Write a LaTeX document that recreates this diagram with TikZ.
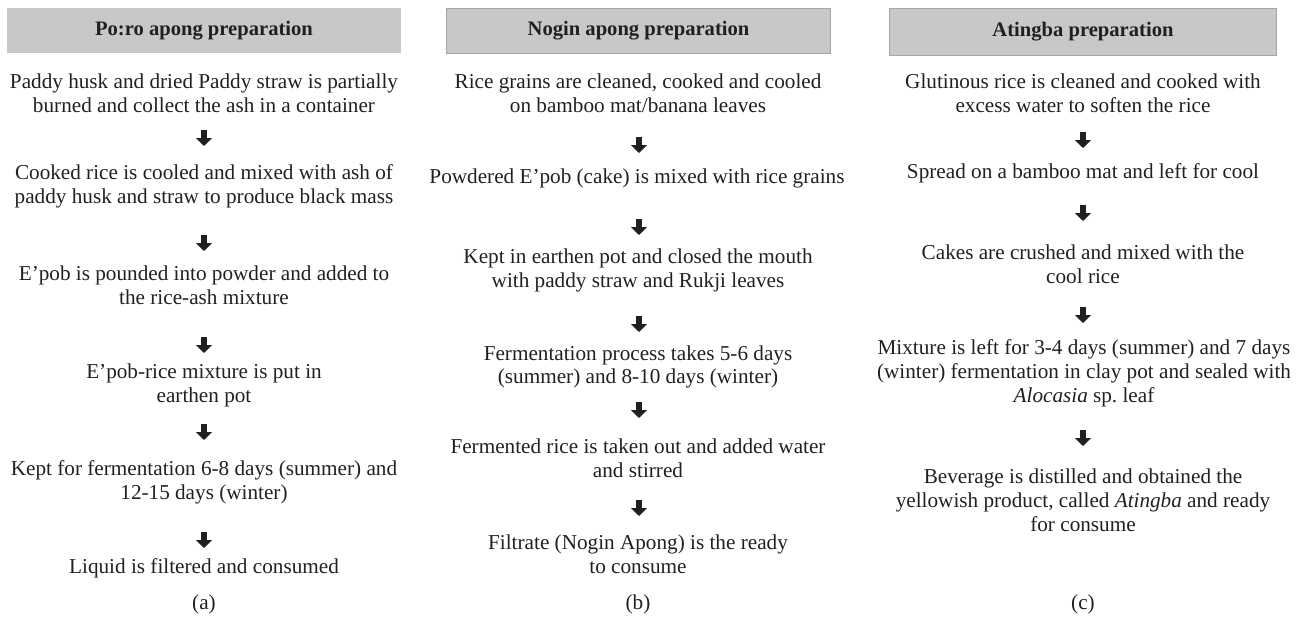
\documentclass[tikz,border=0pt]{standalone}
\usepackage{fontspec}
\setmainfont{Liberation Serif}
\usetikzlibrary{arrows.meta}
\definecolor{ink}{HTML}{231F20}
\definecolor{hdrfill}{HTML}{C8C8C8}
\definecolor{hdrline}{HTML}{A6A6A6}
\tikzset{
  steptext/.style={align=center, inner sep=0pt, text=ink, font=\fontsize{21.2}{23.8}\selectfont},
  hdr/.style={fill=hdrfill, inner sep=0pt, text=ink, font=\bfseries\fontsize{20.6}{23}\selectfont},
  hdrb/.style={hdr, draw=hdrline, line width=1.5pt},
  blk/.style={draw=ink, line width=6pt, -{Triangle[width=16pt,length=8pt]}},
  caption/.style={inner sep=0pt, text=ink, font=\fontsize{21.2}{23.8}\selectfont}
}
\begin{document}
\begin{tikzpicture}[x=1pt,y=-1pt]
\useasboundingbox (0,0) rectangle (1304,618);
% ---------- (a) ----------
\node[hdr, minimum width=394pt, minimum height=45pt] (ha) at (204,30.5) {Po:ro apong preparation};
\node[steptext] (a1) at (204,93.5) {Paddy husk and dried Paddy straw is partially\\burned and collect the ash in a container};
\node[steptext] (a2) at (204,186.5) {Cooked rice is cooled and mixed with ash of\\paddy husk and straw to produce black mass};
\node[steptext] (a3) at (204,285) {E'pob is pounded into powder and added to\\the rice-ash mixture};
\node[steptext] (a4) at (204,385) {E'pob-rice mixture is put in\\earthen pot};
\node[steptext] (a5) at (204,482.5) {Kept for fermentation 6-8 days (summer) and\\12-15 days (winter)};
\node[steptext] (a6) at (204,568) {Liquid is filtered and consumed};
\node[caption] (capa) at (204,604) {(a)};
\coordinate (aa1s) at (204,130); \coordinate (aa1e) at (204,146);
\coordinate (aa2s) at (204,235); \coordinate (aa2e) at (204,251);
\coordinate (aa3s) at (204,337); \coordinate (aa3e) at (204,353);
\coordinate (aa4s) at (204,424); \coordinate (aa4e) at (204,440);
\coordinate (aa5s) at (204,532); \coordinate (aa5e) at (204,548);
\foreach \i in {1,...,5} {\draw[blk] (aa\i s) -- (aa\i e);}
% ---------- (b) ----------
\node[hdrb, minimum width=384pt, minimum height=45pt] (hb) at (638.5,31) {Nogin apong preparation};
\node[steptext] (b1) at (638,93) {Rice grains are cleaned, cooked and cooled\\on bamboo mat/banana leaves};
\node[steptext] (b2) at (637,178) {Powdered E'pob (cake) is mixed with rice grains};
\node[steptext] (b3) at (638,270.5) {Kept in earthen pot and closed the mouth\\with paddy straw and Rukji leaves};
\node[steptext] (b4) at (638,367) {Fermentation process takes 5-6 days\\(summer) and 8-10 days (winter)};
\node[steptext] (b5) at (638,458.5) {Fermented rice is taken out and added water\\and stirred};
\node[steptext] (b6) at (638,554) {Filtrate (Nogin Apong) is the ready\\to consume};
\node[caption] (capb) at (638,604) {(b)};
\coordinate (ba1s) at (639,137); \coordinate (ba1e) at (639,153);
\coordinate (ba2s) at (639,219); \coordinate (ba2e) at (639,235);
\coordinate (ba3s) at (639,316); \coordinate (ba3e) at (639,332);
\coordinate (ba4s) at (639,402); \coordinate (ba4e) at (639,418);
\coordinate (ba5s) at (639,500); \coordinate (ba5e) at (639,516);
\foreach \i in {1,...,5} {\draw[blk] (ba\i s) -- (ba\i e);}
% ---------- (c) ----------
\node[hdrb, minimum width=387pt, minimum height=47pt] (hc) at (1083,32) {Atingba preparation};
\node[steptext] (c1) at (1083,93) {Glutinous rice is cleaned and cooked with\\excess water to soften the rice};
\node[steptext] (c2) at (1083,173) {Spread on a bamboo mat and left for cool};
\node[steptext] (c3) at (1083,264) {Cakes are crushed and mixed with the\\cool rice};
\node[steptext] (c4) at (1084,373) {Mixture is left for 3-4 days (summer) and 7 days\\(winter) fermentation in clay pot and sealed with\\\textit{Alocasia} sp.\ leaf};
\node[steptext] (c5) at (1083,500) {Beverage is distilled and obtained the\\yellowish product, called \textit{Atingba} and ready\\for consume};
\node[caption] (capc) at (1083,604) {(c)};
\coordinate (ca1s) at (1083,132); \coordinate (ca1e) at (1083,148);
\coordinate (ca2s) at (1083,205); \coordinate (ca2e) at (1083,221);
\coordinate (ca3s) at (1083,307); \coordinate (ca3e) at (1083,323);
\coordinate (ca4s) at (1083,430); \coordinate (ca4e) at (1083,446);
\foreach \i in {1,...,4} {\draw[blk] (ca\i s) -- (ca\i e);}
\end{tikzpicture}
\end{document}
